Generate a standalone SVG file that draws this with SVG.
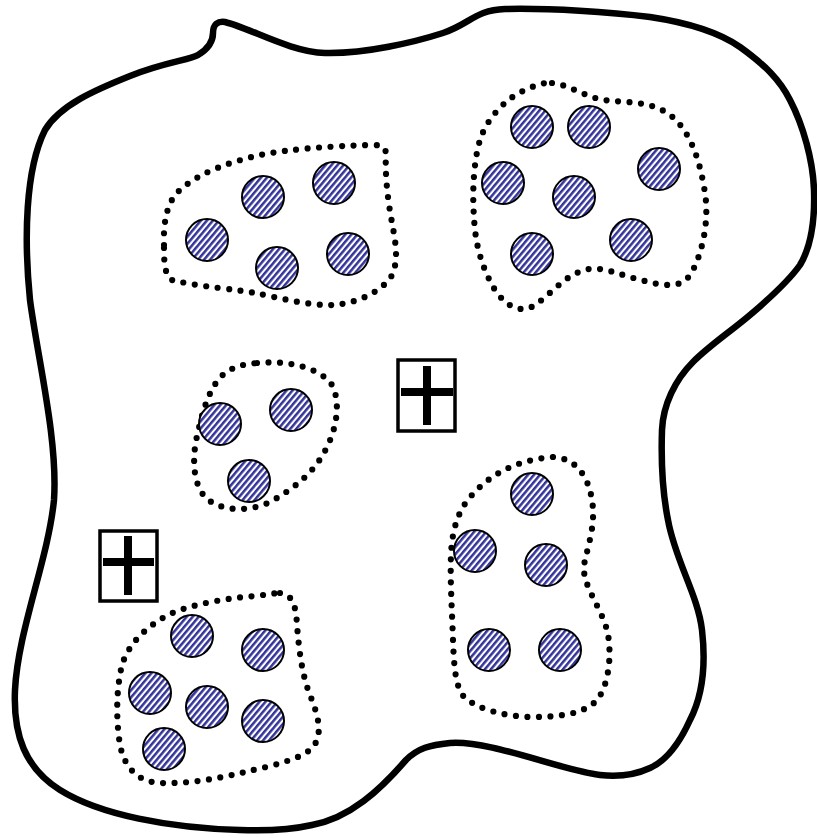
<svg xmlns="http://www.w3.org/2000/svg" width="817" height="838" viewBox="0 0 817 838">
<style>
.outer{fill:#fff;stroke:#000;stroke-width:6.5;stroke-linejoin:round}
.dot{fill:none;stroke:#000;stroke-width:6.2;stroke-linecap:round;stroke-dasharray:0 11.5}
.c{fill:url(#hatch);stroke:#000;stroke-width:2}
.box{fill:#fff;stroke:#000;stroke-width:3.5}
.cross{stroke:#000;stroke-width:8;fill:none}
</style>
<defs>
<pattern id="hatch" patternUnits="userSpaceOnUse" width="4.6" height="20" patternTransform="rotate(40)">
<rect x="0" y="0" width="4.6" height="20" fill="#fff"/>
<rect x="0" y="0" width="2.5" height="20" fill="#333399"/>
</pattern>
</defs>
<rect width="817" height="838" fill="#fff"/>
<g id="boundary">
<path class="outer" d="M 198,55 C 208,49 213,42 213,33 C 213,24 218,21 225,22 C 250,28 290,52 325,53 C 365,54 415,42 443,33 C 470,24 475,10 505,9 C 550,8 610,12 650,17 C 690,23 720,33 740,47 C 765,65 780,80 790,100 C 803,125 813,160 814,190 C 815,220 812,245 800,265 C 788,282 770,298 750,315 C 730,332 710,345 693,362 C 675,380 663,405 662,430 C 661,460 662,490 668,520 C 675,560 698,595 702,630 C 706,665 703,695 690,720 C 680,742 668,760 650,768 C 635,775 618,777 600,775 C 560,770 490,740 450,743 C 430,745 418,748 406,760 C 380,790 350,818 312,825 C 290,830 265,831 240,830 C 170,828 100,815 60,790 C 25,768 13,735 15,690 C 18,630 48,560 54,500 C 58,440 38,360 30,300 C 24,240 25,170 45,130 C 60,105 95,90 130,76 C 165,62 190,60 198,55 Z"/>
</g>
<g id="cluster1">
<path class="dot" d="M 164,245 C 163,220 168,200 180,190 C 200,172 230,162 260,155 C 290,149 330,146 372,145 C 382,145 386,147 386,155 C 385,170 387,195 391,217 C 395,240 400,260 391,277 C 382,290 360,303 333,305 C 310,306 280,298 255,293 C 235,289 200,287 172,280 C 164,275 164,260 164,245 Z"/>
<circle class="c" cx="207" cy="240" r="21"/>
<circle class="c" cx="263" cy="197" r="21"/>
<circle class="c" cx="334" cy="183" r="21"/>
<circle class="c" cx="277" cy="268" r="21"/>
<circle class="c" cx="348" cy="254" r="21"/>
</g>
<g id="cluster2">
<path class="dot" d="M 552,83 C 570,85 585,97 604,100 C 625,103 650,100 670,115 C 690,130 700,160 705,193 C 710,225 700,260 690,275 C 680,290 660,285 641,280 C 620,275 600,265 585,270 C 565,275 550,295 535,305 C 520,315 505,305 495,290 C 480,265 475,240 474,217 C 472,190 474,160 480,140 C 487,118 505,100 521,92 C 535,85 545,82 552,83 Z"/>
<circle class="c" cx="532" cy="127" r="21"/>
<circle class="c" cx="589" cy="127" r="21"/>
<circle class="c" cx="659" cy="169" r="21"/>
<circle class="c" cx="503" cy="183" r="21"/>
<circle class="c" cx="574" cy="197" r="21"/>
<circle class="c" cx="631" cy="240" r="21"/>
<circle class="c" cx="532" cy="254" r="21"/>
</g>
<g id="cluster3">
<path class="dot" d="M 257,363 C 290,360 320,368 332,385 C 340,400 338,425 327,447 C 315,472 295,488 270,502 C 250,512 220,512 205,497 C 192,482 192,455 198,432 C 203,410 210,385 225,373 C 235,366 245,364 257,363 Z"/>
<circle class="c" cx="220" cy="424" r="21"/>
<circle class="c" cx="291" cy="410" r="21"/>
<circle class="c" cx="249" cy="481" r="21"/>
</g>
<g id="cluster4">
<path class="dot" d="M 553,457 C 575,458 588,475 592,500 C 596,525 588,545 584,565 C 582,585 600,605 607,630 C 613,655 608,690 595,702 C 582,714 560,717 530,717 C 505,716 480,710 465,698 C 455,688 454,665 453,640 C 452,610 450,580 451,555 C 452,530 458,510 472,495 C 490,475 515,460 553,457 Z"/>
<circle class="c" cx="532" cy="494" r="21"/>
<circle class="c" cx="475" cy="551" r="21"/>
<circle class="c" cx="546" cy="565" r="21"/>
<circle class="c" cx="489" cy="650" r="21"/>
<circle class="c" cx="560" cy="650" r="21"/>
</g>
<g id="cluster5">
<path class="dot" d="M 280,593 C 292,594 296,605 297,625 C 299,650 302,675 310,695 C 318,715 324,735 312,748 C 300,760 270,766 245,772 C 220,778 190,784 160,783 C 140,782 125,770 120,745 C 116,720 116,690 122,665 C 128,645 145,627 170,614 C 195,603 230,598 255,596 C 265,595 275,593 280,593 Z"/>
<circle class="c" cx="192" cy="636" r="21"/>
<circle class="c" cx="263" cy="650" r="21"/>
<circle class="c" cx="150" cy="693" r="21"/>
<circle class="c" cx="207" cy="707" r="21"/>
<circle class="c" cx="263" cy="721" r="21"/>
<circle class="c" cx="164" cy="749" r="21"/>
</g>
<g id="plus1">
<rect class="box" x="398" y="360" width="57" height="71"/>
<path class="cross" d="M 427,366 V 425 M 401,392 H 453"/>
</g>
<g id="plus2">
<rect class="box" x="100" y="531" width="57" height="70"/>
<path class="cross" d="M 128,536 V 595 M 103,562 H 154"/>
</g>
<g id="connectors"/>
</svg>
